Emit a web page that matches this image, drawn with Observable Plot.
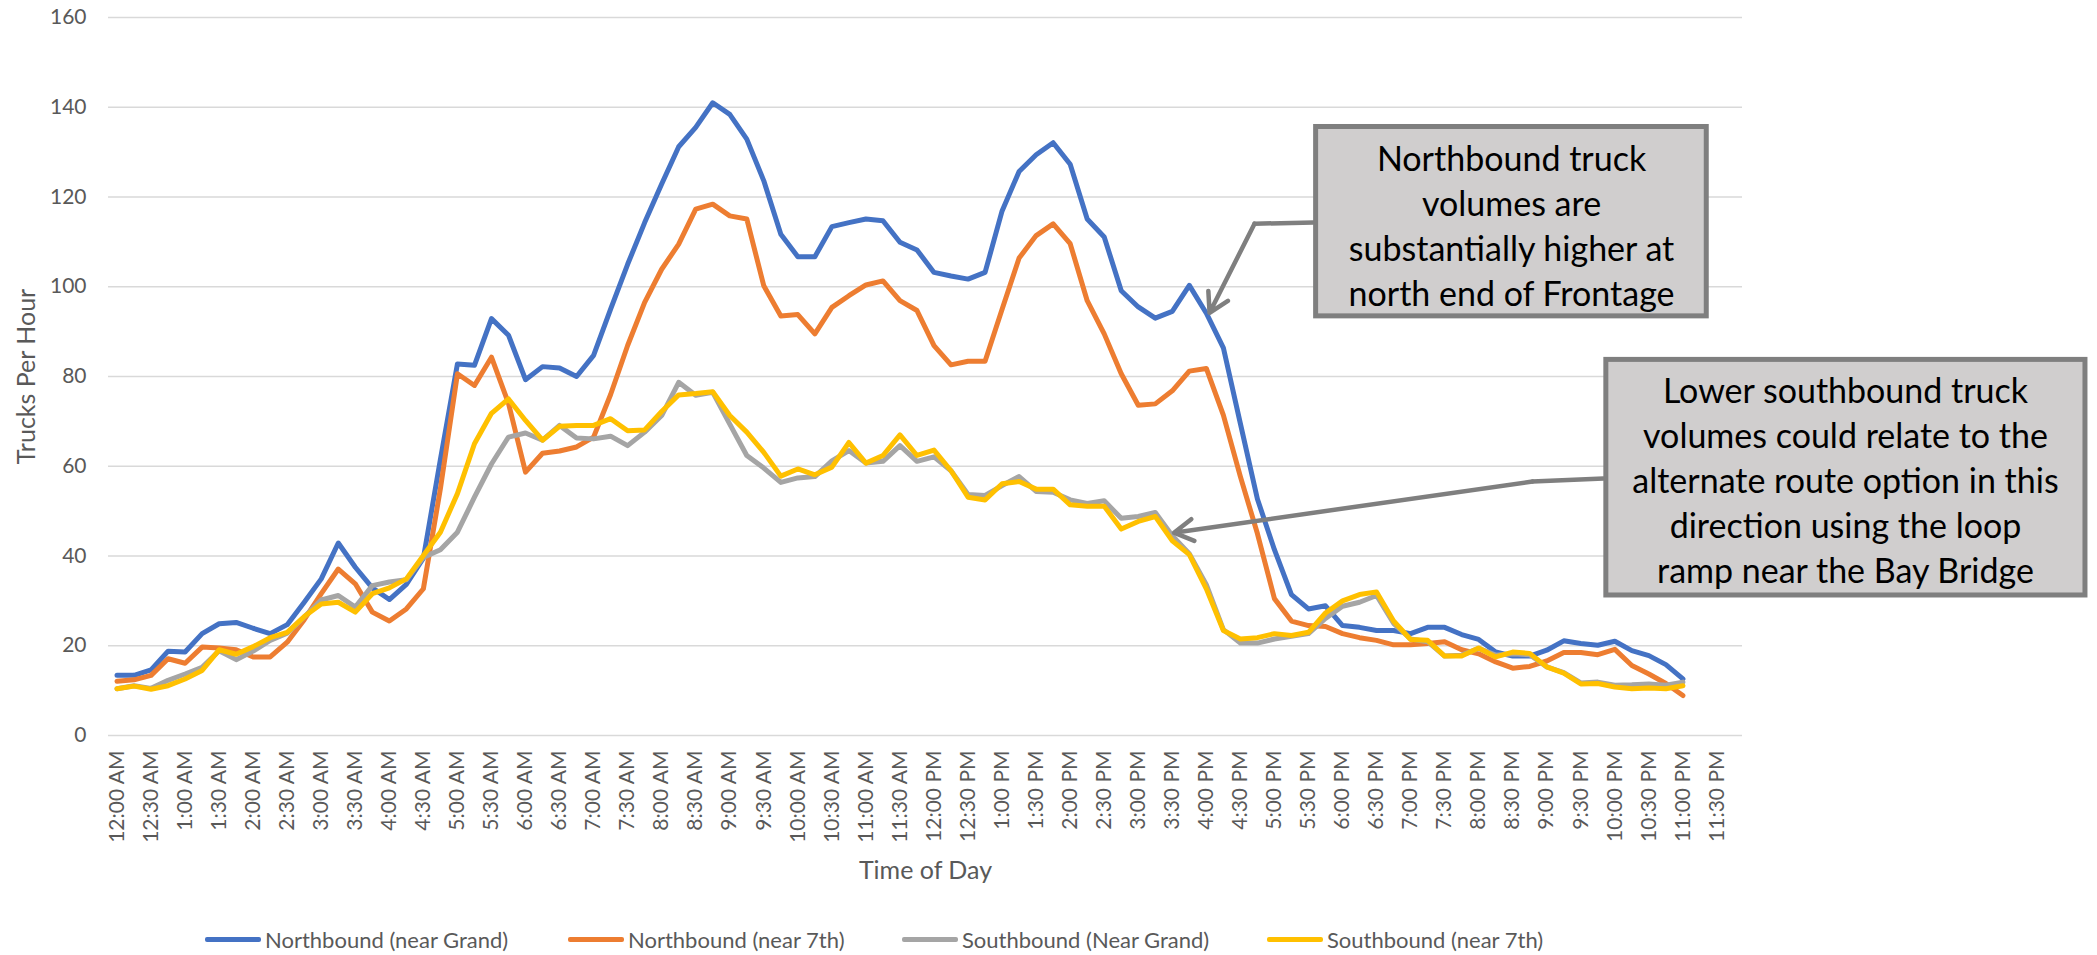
<!DOCTYPE html>
<html>
<head>
<meta charset="utf-8">
<script src="https://cdn.jsdelivr.net/npm/d3@7"></script>
<script src="https://cdn.jsdelivr.net/npm/@observablehq/plot@0.6"></script>
<style>
  body { margin: 0; background: #fff; font-family: Lato, "Open Sans", sans-serif; }
  #chart { position: relative; width: 2097px; height: 955px; overflow: hidden; }
  .lg { position: absolute; top: 926px; display: flex; align-items: center; font-size: 22px; color: #595959; white-space: nowrap; }
  .sw { width: 56px; height: 5px; margin-right: 4px; border-radius: 2px; }
</style>
</head>
<body>
<div id="chart"></div>
<script>
// ---- data: 15-minute slots, index 0 = 12:00 AM ... 92 = 11:00 PM ----
const seriesNames = ["Northbound (near Grand)", "Northbound (near 7th)", "Southbound (Near Grand)", "Southbound (near 7th)"];
const seriesColors = ["#4472C4", "#ED7D31", "#A5A5A5", "#FFC000"];

const nbGrand = [13.4,13.4,14.6,18.8,18.6,22.7,24.9,25.2,23.9,22.7,24.7,29.7,34.9,42.9,37.5,32.9,30.3,33.7,39.5,61.5,
  82.8,82.5,92.9,89.2,79.3,82.2,81.9,80.0,84.7,95.0,105.0,114.3,122.9,131.2,135.5,141.0,138.4,132.9,123.6,111.7,
  106.7,106.7,113.4,114.3,115.1,114.7,109.9,108.2,103.2,102.4,101.7,103.2,116.9,125.7,129.4,132.1,127.3,115.1,111.1,99.1,
  95.5,93.0,94.5,100.3,94.1,86.4,69.5,52.7,41.4,31.4,28.2,28.9,24.5,24.1,23.4,23.4,22.7,24.1,24.1,22.5,
  21.4,18.6,17.7,17.7,19.0,21.1,20.5,20.1,21.0,18.9,17.8,15.8,12.6];

const nb7th = [12.1,12.4,13.4,17.1,16.1,19.7,19.5,19.1,17.5,17.5,20.8,25.8,31.6,37.1,33.8,27.5,25.5,28.2,32.7,55.0,
  80.6,78.0,84.3,74.0,58.7,62.9,63.4,64.3,66.5,76.0,86.9,96.5,103.9,109.5,117.3,118.4,115.8,115.1,100.2,93.5,
  93.8,89.5,95.4,98.0,100.4,101.3,96.9,94.7,86.9,82.6,83.4,83.4,95.0,106.4,111.4,114.0,109.6,96.9,89.5,80.6,
  73.6,73.9,76.8,81.2,81.8,71.4,57.7,45.0,30.5,25.5,24.5,24.3,22.7,21.8,21.2,20.2,20.2,20.5,20.9,19.1,
  18.2,16.4,15.0,15.4,16.6,18.5,18.5,18.0,19.2,15.6,13.7,11.6,8.9];

const sbGrand = [10.4,11.1,10.5,12.3,13.7,15.2,18.9,16.9,18.8,21.2,22.8,26.4,30.2,31.2,28.6,33.4,34.2,34.7,39.7,41.4,
  45.3,53.1,60.5,66.5,67.4,65.8,69.1,66.3,66.1,66.7,64.6,67.6,71.3,78.7,75.8,76.5,69.4,62.4,59.6,56.4,
  57.4,57.7,61.2,63.5,60.7,61.1,64.6,61.1,62.1,59.0,53.7,53.5,55.7,57.7,54.4,54.2,52.5,51.7,52.3,48.4,
  48.8,49.7,44.5,40.5,33.6,23.6,20.6,20.6,21.5,22.1,22.7,26.1,28.8,29.7,31.2,25.0,21.5,20.9,17.7,17.9,
  19.4,17.9,18.2,18.0,15.3,14.0,11.7,11.9,11.2,11.3,11.5,11.2,11.9];

const sb7th = [10.4,11.0,10.3,11.1,12.6,14.5,19.1,18.1,19.8,21.8,23.0,26.5,29.3,29.7,27.5,31.6,32.9,34.9,40.1,45.3,
  53.9,65.0,71.8,75.0,70.2,65.8,68.9,69.1,69.1,70.6,67.9,68.1,72.2,75.9,76.2,76.6,71.3,67.6,63.1,57.8,
  59.4,58.1,59.8,65.3,60.7,62.4,67.0,62.4,63.6,59.0,53.1,52.5,56.1,56.6,54.9,54.9,51.4,51.1,51.1,46.0,
  47.7,48.8,43.4,40.3,32.7,23.4,21.5,21.8,22.7,22.3,23.0,27.3,30.0,31.4,32.0,25.5,21.4,21.2,17.7,17.7,
  19.5,17.5,18.6,18.3,15.3,13.9,11.5,11.6,10.8,10.4,10.6,10.4,11.1];

// x tick labels, one for every second 15-minute slot (96 slots in the day)
const tickLabels = ["12:00 AM","12:30 AM","1:00 AM","1:30 AM","2:00 AM","2:30 AM","3:00 AM","3:30 AM","4:00 AM","4:30 AM",
  "5:00 AM","5:30 AM","6:00 AM","6:30 AM","7:00 AM","7:30 AM","8:00 AM","8:30 AM","9:00 AM","9:30 AM",
  "10:00 AM","10:30 AM","11:00 AM","11:30 AM","12:00 PM","12:30 PM","1:00 PM","1:30 PM","2:00 PM","2:30 PM",
  "3:00 PM","3:30 PM","4:00 PM","4:30 PM","5:00 PM","5:30 PM","6:00 PM","6:30 PM","7:00 PM","7:30 PM",
  "8:00 PM","8:30 PM","9:00 PM","9:30 PM","10:00 PM","10:30 PM","11:00 PM","11:30 PM"];
const yTicks = [0, 20, 40, 60, 80, 100, 120, 140, 160];

// annotations (in data units: x = slot index, y = trucks per hour)
const boxes = [
  {x1: 70.45, x2: 93.4, y1: 93.4, y2: 135.6, cx: 81.93, cy: 114.0,
   text: "Northbound truck\nvolumes are\nsubstantially higher at\nnorth end of Frontage"},
  {x1: 87.5, x2: 115.65, y1: 31.2, y2: 83.7, cx: 101.55, cy: 57.2,
   text: "Lower southbound truck\nvolumes could relate to the\nalternate route option in this\ndirection using the loop\nramp near the Bay Bridge"}
];
const connectors = [
  {id: 1, xs: [70.3, 66.83], ys: [114.3, 114.05], tx: 64.19, ty: 94.2},
  {id: 2, xs: [87.33, 83.16], ys: [57.25, 56.6], tx: 62.1, ty: 45.2}
];

const all = [nbGrand, nb7th, sbGrand, sb7th];
const rows = all.map((arr, k) => arr.map((v, i) => ({i, v, s: seriesNames[k]})));

const connSegs = connectors.flatMap(c => c.xs.map((x, j) => ({id: c.id, x, y: c.ys[j]})));
const connArrows = connectors.map(c => ({x1: c.xs[1], y1: c.ys[1], x2: c.tx, y2: c.ty}));

const plot = Plot.plot({
  width: 2097,
  height: 900,
  marginLeft: 108,
  marginRight: 355,
  marginTop: 17,
  marginBottom: 165,
  style: {fontFamily: "Lato, 'Open Sans', sans-serif", fontSize: "21px", background: "#fff", overflow: "visible"},
  x: {domain: [-0.5, 95.5]},
  y: {domain: [0, 160]},
  color: {domain: seriesNames, range: seriesColors},
  marks: [
    Plot.gridY(yTicks, {stroke: "#d9d9d9", strokeOpacity: 1, strokeWidth: 1.6}),
    Plot.axisY(yTicks, {tickSize: 0, tickPadding: 22, fontSize: 21, fill: "#595959", label: null}),
    Plot.axisX(d3.range(0, 96, 2), {tickSize: 0, tickPadding: 15, tickRotate: -90, fontSize: 21, fill: "#595959",
      tickFormat: d => tickLabels[d / 2], label: null}),
    ...rows.map(r => Plot.line(r, {x: "i", y: "v", stroke: "s", strokeWidth: 5, strokeLinejoin: "round", strokeLinecap: "round"})),
    Plot.line(connSegs, {x: "x", y: "y", z: "id", stroke: "#7f7f7f", strokeWidth: 4.5}),
    Plot.arrow(connArrows, {x1: "x1", y1: "y1", x2: "x2", y2: "y2", stroke: "#7f7f7f", strokeWidth: 4.5, headLength: 7.3, headAngle: 60}),
    Plot.rect(boxes, {x1: "x1", x2: "x2", y1: "y1", y2: "y2", fill: "#d0cece", stroke: "#7f7f7f", strokeWidth: 5}),
    Plot.text(boxes, {x: "cx", y: "cy", text: "text", fontSize: 34, lineHeight: 1.32, fill: "#000", lineAnchor: "middle"}),
    Plot.text(["Trucks Per Hour"], {text: d => d, frameAnchor: "left", dx: -82, rotate: -90, fontSize: 25, fill: "#595959", textAnchor: "middle", lineAnchor: "middle"}),
    Plot.text(["Time of Day"], {text: d => d, frameAnchor: "bottom", dy: 135, fontSize: 25, fill: "#595959", textAnchor: "middle", lineAnchor: "middle"})
  ]
});

const chart = document.getElementById("chart");
chart.appendChild(plot);

// legend (HTML, below the SVG area)
const legendLeft = [205, 568, 902, 1267];
seriesNames.forEach((name, k) => {
  const item = document.createElement("div");
  item.className = "lg";
  item.style.left = legendLeft[k] + "px";
  const sw = document.createElement("div");
  sw.className = "sw";
  sw.style.background = seriesColors[k];
  const t = document.createElement("span");
  t.textContent = name;
  item.appendChild(sw);
  item.appendChild(t);
  chart.appendChild(item);
});
</script>
</body>
</html>
